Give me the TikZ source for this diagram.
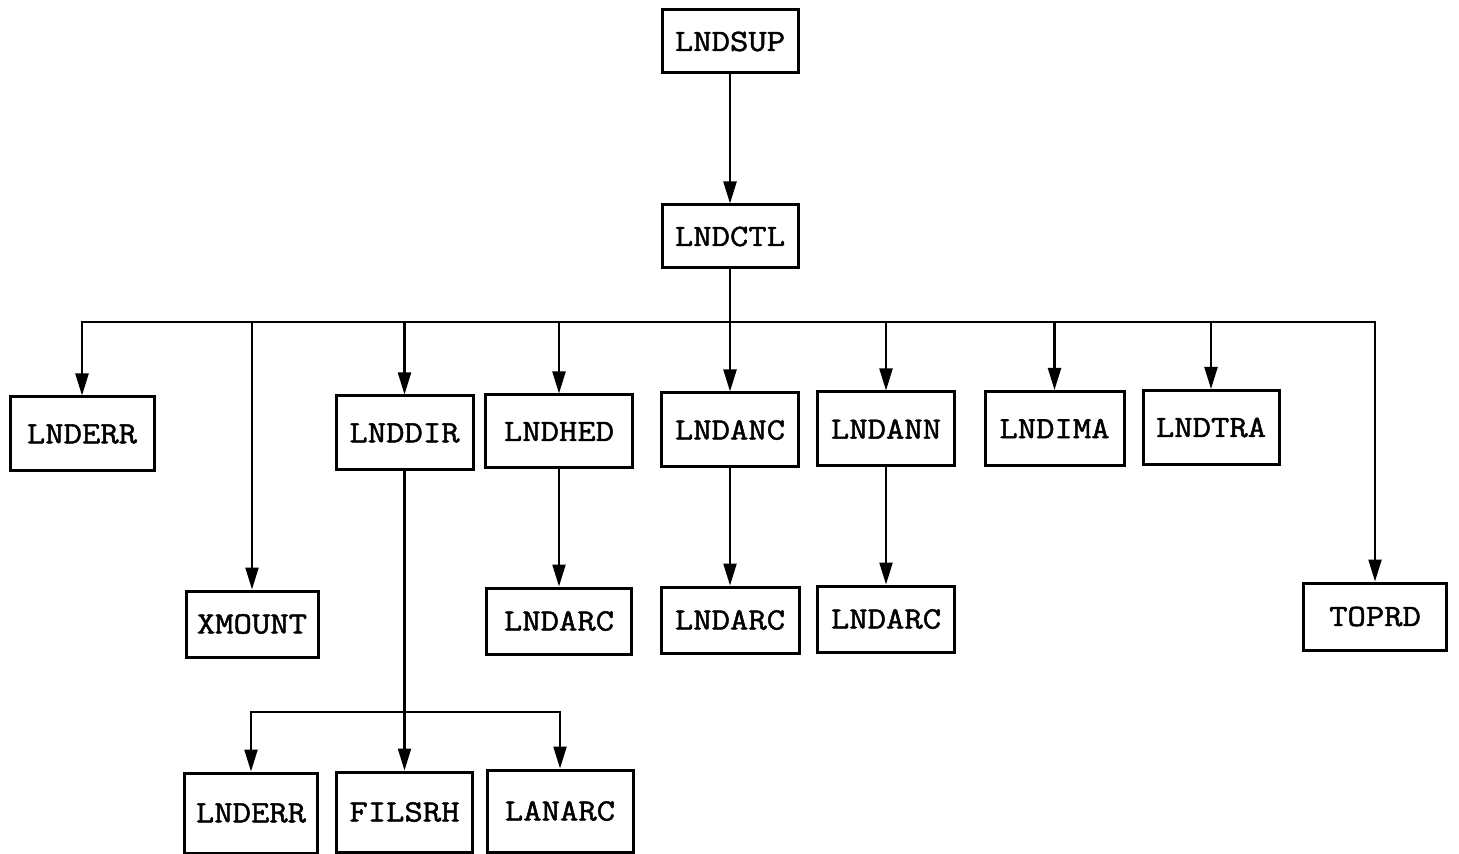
\documentclass[tikz,border=0pt]{standalone}
\usepackage{fontspec}
\newfontfamily\boxfont{Latin Modern Mono}[FakeStretch=1.15, FakeBold=1.5]
\usetikzlibrary{arrows.meta}
\tikzset{
  box/.style={draw, line width=1.5pt, inner sep=0pt, fill=white,
    minimum width=68.5pt, minimum height=37pt,
    font=\boxfont\fontsize{15.5}{17}\selectfont},
  wire/.style={line width=1.1pt},
  arr/.style={wire, -{Triangle[length=11pt, width=6.5pt]}}
}
\begin{document}
\begin{tikzpicture}[x=0.5pt, y=-0.5pt]
  \useasboundingbox (0,0) rectangle (1459,854);

  % top of the tree
  \node[box, minimum width=68pt, minimum height=31.5pt] (sup) at (730,41.5) {LNDSUP};
  \node[box, minimum width=68pt, minimum height=31.5pt] (ctl) at (730,236.5) {LNDCTL};

  % first level
  \node[box, minimum width=72pt] (err) at (82,434) {LNDERR};
  \node[box, minimum width=66pt, minimum height=33pt] (xmount) at (252,624) {XMOUNT};
  \node[box] (dir) at (404.5,433) {LNDDIR};
  \node[box, minimum width=73.5pt, minimum height=36.5pt] (hed) at (559,431.5) {LNDHED};
  \node[box] (anc) at (730,430) {LNDANC};
  \node[box] (ann) at (886,429) {LNDANN};
  \node[box, minimum width=69.5pt] (ima) at (1054.5,428.5) {LNDIMA};
  \node[box, minimum width=68pt] (tra) at (1211,427.5) {LNDTRA};
  \node[box, minimum width=71.5pt, minimum height=33.5pt] (toprd) at (1375,616.5) {TOPRD};

  % second level
  \node[box, minimum width=72.5pt, minimum height=33pt] (arc1) at (559,621) {LNDARC};
  \node[box, minimum width=69pt, minimum height=33pt] (arc2) at (730,620) {LNDARC};
  \node[box, minimum width=68.5pt, minimum height=33pt] (arc3) at (886,619) {LNDARC};

  % third level
  \node[box, minimum width=66.5pt, minimum height=40pt] (err2) at (251,813) {LNDERR};
  \node[box, minimum width=68pt, minimum height=40pt] (fil) at (404.5,812) {FILSRH};
  \node[box, minimum width=73pt, minimum height=41pt] (lan) at (560,811) {LANARC};

  % bus rails
  \coordinate (bus) at (730,322);
  \coordinate (sub) at (404.5,712);

  % connectors
  \draw[arr] (sup) -- (ctl);
  \draw[wire] (ctl) -- (bus);
  \draw[arr] (bus) -| (err.north);
  \draw[arr] (bus) -| (xmount.north);
  \draw[arr] (bus) -| (dir.north);
  \draw[arr] (bus) -| (hed.north);
  \draw[arr] (bus) -- (anc.north);
  \draw[arr] (bus) -| (ann.north);
  \draw[arr] (bus) -| (ima.north);
  \draw[arr] (bus) -| (tra.north);
  \draw[arr] (bus) -| (toprd.north);

  \draw[arr] (hed) -- (arc1);
  \draw[arr] (anc) -- (arc2);
  \draw[arr] (ann) -- (arc3);

  \draw[arr] (dir) -- (fil);
  \draw[arr] (sub) -| (err2.north);
  \draw[arr] (sub) -| (lan.north);
\end{tikzpicture}
\end{document}
